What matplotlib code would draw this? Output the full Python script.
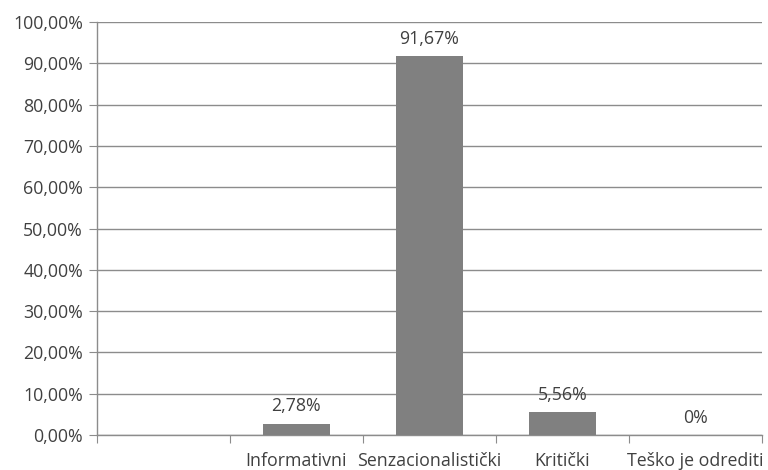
import matplotlib.pyplot as plt
import numpy as np
from matplotlib.ticker import FuncFormatter

categories = ['', 'Informativni', 'Senzacionalistički', 'Kritički', 'Teško je odrediti']
values = [None, 2.78, 91.67, 5.56, 0.0]
value_labels = ['', '2,78%', '91,67%', '5,56%', '0%']

plt.rcParams['font.family'] = ['Open Sans', 'DejaVu Sans']
text_color = '#404040'
line_color = '#8c8c8c'
fs = 12.8

fig = plt.figure(figsize=(7.68, 4.70), dpi=100)
ax = fig.add_axes([0.126, 0.0745, 0.866, 0.8785])

x = np.arange(len(categories))
for i, v in enumerate(values):
    if v is None:
        continue
    ax.bar(x[i], v, width=0.5, color='#808080', zorder=3)
    ax.annotate(value_labels[i], (x[i], v), xytext=(0, 6), textcoords='offset points',
                ha='center', va='bottom', fontsize=fs, color=text_color)

ax.set_xlim(-0.5, len(categories) - 0.5)
ax.set_ylim(0, 100)
ax.set_yticks(np.arange(0, 101, 10))
ax.yaxis.set_major_formatter(FuncFormatter(lambda v, p: f'{v:.2f}%'.replace('.', ',')))
ax.yaxis.grid(True, color=line_color, linewidth=1, zorder=0)

# ticks at category boundaries, labels at centres
ax.set_xticks(np.arange(-0.5, len(categories), 1))
ax.set_xticklabels([])
ax.set_xticks(x, minor=True)
ax.set_xticklabels(categories, minor=True)
ax.tick_params(axis='x', which='minor', length=0, pad=12, labelsize=fs, labelcolor=text_color)
ax.tick_params(axis='x', which='major', length=6, color=line_color)
ax.tick_params(axis='y', length=6, color=line_color, labelsize=fs, labelcolor=text_color, pad=4)

for s in ['top', 'right']:
    ax.spines[s].set_visible(False)
for s in ['left', 'bottom']:
    ax.spines[s].set_color(line_color)
    ax.spines[s].set_linewidth(1)

plt.savefig('out.png', dpi=100)
